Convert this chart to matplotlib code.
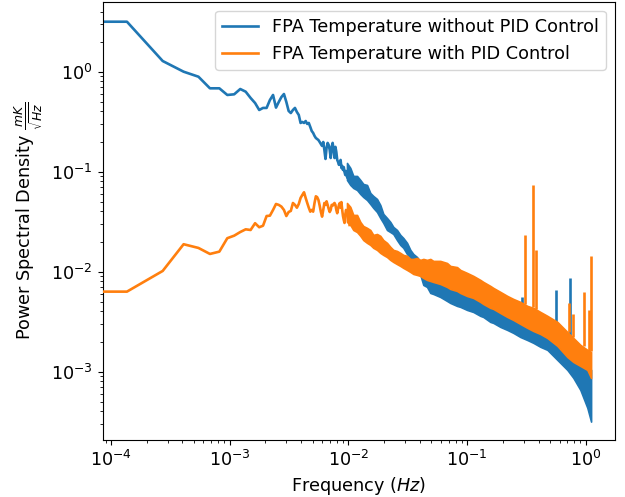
import numpy as np
import matplotlib
matplotlib.use("Agg")
import matplotlib.pyplot as plt

# ---------------- data ----------------
DF = 1.364e-4  # frequency bin width (Hz)

# low-frequency bins k = 0..75 (f = k*DF)
blue_low = [3.162, 3.162, 1.279, 1.000, 0.891, 0.682, 0.682, 0.585, 0.594, 0.671,
            0.631, 0.546, 0.486, 0.414, 0.434, 0.434, 0.521, 0.585, 0.437, 0.498,
            0.558, 0.598, 0.498, 0.405, 0.386, 0.414, 0.434, 0.395, 0.369, 0.307,
            0.314, 0.307, 0.321, 0.300, 0.307, 0.280, 0.255, 0.244, 0.228, 0.217,
            0.212, 0.207, 0.198, 0.189, 0.181, 0.198, 0.165, 0.134, 0.173, 0.194,
            0.185, 0.165, 0.137, 0.177, 0.194, 0.165, 0.137, 0.177, 0.157, 0.131,
            0.125, 0.117, 0.122, 0.131, 0.109, 0.114, 0.104, 0.111, 0.0993, 0.0927,
            0.1016, 0.0906, 0.0865, 0.0948, 0.0826, 0.0885]

orange_low = [0.00631, 0.00631, 0.01016, 0.0188, 0.01726, 0.01503, 0.01585, 0.0216, 0.0229, 0.0249,
              0.0265, 0.0261, 0.0305, 0.0278, 0.0288, 0.0360, 0.0363, 0.0414, 0.0475, 0.0465,
              0.0447, 0.0414, 0.0360, 0.0395, 0.0405, 0.0486, 0.0465, 0.0436, 0.0475, 0.0546,
              0.0585, 0.0622, 0.0546, 0.0486, 0.0436, 0.0398, 0.0414, 0.0398, 0.0486, 0.0567,
              0.0556, 0.0521, 0.0457, 0.0395, 0.0355, 0.0414, 0.0486, 0.0465, 0.0505, 0.0465,
              0.0425, 0.0395, 0.0414, 0.0465, 0.0457, 0.0475, 0.0486, 0.0465, 0.0414, 0.0384,
              0.0425, 0.0465, 0.0486, 0.0436, 0.0496, 0.0414, 0.0360, 0.0329, 0.0307, 0.0372,
              0.0414, 0.0395, 0.0398, 0.0316, 0.0381, 0.0293]

# dense high-frequency region: envelope of the noisy spectrum
band_f = [0.00973, 0.01038, 0.01100, 0.01182, 0.01260, 0.01335, 0.01435, 0.01529, 0.01621, 0.01741,
          0.01856, 0.01968, 0.02114, 0.02254, 0.02389, 0.02566, 0.02736, 0.02901, 0.03116, 0.03322,
          0.03522, 0.03783, 0.04033, 0.04276, 0.04593, 0.04898, 0.05191, 0.05943, 0.06772, 0.07219,
          0.08223, 0.08766, 0.09982, 0.1128, 0.1292, 0.1369, 0.1569, 0.1663, 0.1904, 0.2182,
          0.2450, 0.2806, 0.3215, 0.3612, 0.4138, 0.4739, 0.5753, 0.6984, 0.7847, 0.8989,
          1.0294, 1.1061]

blue_top = [0.1222, 0.1089, 0.0906, 0.0906, 0.0826, 0.0753, 0.0736, 0.0612, 0.0571, 0.0533,
            0.0464, 0.0378, 0.0344, 0.0314, 0.0280, 0.0261, 0.0233, 0.0217, 0.0194, 0.0165,
            0.0150, 0.0140, 0.0125, 0.0114, 0.0109, 0.00993, 0.00927, 0.00865, 0.00789, 0.00753,
            0.00703, 0.00656, 0.00612, 0.00558, 0.00509, 0.00486, 0.00444, 0.00424, 0.00395, 0.00361,
            0.00329, 0.00307, 0.00280, 0.00261, 0.00244, 0.00222, 0.00194, 0.00165, 0.00147, 0.00125,
            0.00109, 0.00104]
blue_bot = [0.0826, 0.0736, 0.0687, 0.0656, 0.0598, 0.0558, 0.0521, 0.0475, 0.0434, 0.0395,
            0.0344, 0.0307, 0.0261, 0.0249, 0.0238, 0.0207, 0.0185, 0.0173, 0.0150, 0.0137,
            0.0125, 0.0114, 0.00927, 0.00736, 0.00703, 0.00612, 0.00598, 0.00558, 0.00509, 0.00486,
            0.00454, 0.00444, 0.00414, 0.00395, 0.00361, 0.00352, 0.00314, 0.00307, 0.00280, 0.00261,
            0.00244, 0.00222, 0.00207, 0.00194, 0.00177, 0.00165, 0.00131, 0.00104, 0.000865, 0.000656,
            0.000434, 0.000316]

orange_top = [0.0486, 0.0444, 0.0369, 0.0369, 0.0314, 0.0286, 0.0274, 0.0261, 0.0233, 0.0238,
              0.0228, 0.0207, 0.0194, 0.0177, 0.0165, 0.0161, 0.0154, 0.0147, 0.0144, 0.0134,
              0.0134, 0.0137, 0.0131, 0.0134, 0.0131, 0.0134, 0.0128, 0.0128, 0.0122, 0.0114,
              0.0111, 0.0104, 0.00971, 0.00906, 0.00826, 0.00789, 0.00719, 0.00687, 0.00627, 0.00571,
              0.00533, 0.00498, 0.00454, 0.00434, 0.00395, 0.00361, 0.00314, 0.00249, 0.00217, 0.00185,
              0.00165, 0.00157]
orange_bot = [0.0314, 0.0293, 0.0261, 0.0249, 0.0228, 0.0207, 0.0194, 0.0185, 0.0173, 0.0165,
              0.0154, 0.0147, 0.0140, 0.0131, 0.0125, 0.0119, 0.0114, 0.0109, 0.0104, 0.00993,
              0.00948, 0.00927, 0.00906, 0.00865, 0.00826, 0.00807, 0.00789, 0.00753, 0.00703, 0.00671,
              0.00641, 0.00612, 0.00571, 0.00546, 0.00498, 0.00475, 0.00434, 0.00424, 0.00386, 0.00352,
              0.00329, 0.00300, 0.00274, 0.00255, 0.00238, 0.00217, 0.00181, 0.00140, 0.00125, 0.00114,
              0.00104, 0.000865]

# narrow spectral lines (frequency, band level, peak level)
blue_spike_f = [0.290, 0.561, 0.731]
blue_spike_base = [0.0031, 0.0019, 0.0016]
blue_spike_peak = [0.00558, 0.00656, 0.0086]

orange_spike_f = [0.309, 0.361, 0.378, 0.716, 0.780, 0.958, 1.056, 1.106]
orange_spike_base = [0.0048, 0.0044, 0.0042, 0.0025, 0.0022, 0.0018, 0.0016, 0.0016]
orange_spike_peak = [0.0233, 0.0736, 0.0165, 0.0049, 0.0038, 0.0063, 0.0041, 0.0144]

labels = ["FPA Temperature without PID Control", "FPA Temperature with PID Control"]
colors = ["#1f77b4", "#ff7f0e"]

# ---------------- plot ----------------
FS = 12.7
LW = 1.9
fig = plt.figure(figsize=(6.25, 4.97), dpi=100)
ax = fig.add_axes([0.164, 0.1147, 0.8192, 0.8813])

f_low_b = np.arange(len(blue_low)) * DF
f_low_o = np.arange(len(orange_low)) * DF

series = [
    (f_low_b, blue_low, blue_top, blue_bot, blue_spike_f, blue_spike_base, blue_spike_peak),
    (f_low_o, orange_low, orange_top, orange_bot, orange_spike_f, orange_spike_base, orange_spike_peak),
]
for i, (fl, vl, top, bot, sf, sb, sp) in enumerate(series):
    c = colors[i]
    z = 2 + i
    ax.plot(fl, vl, color=c, lw=LW, label=labels[i], zorder=z)
    ax.fill_between(band_f, bot, top, color=c, lw=1.2, edgecolor=c, zorder=z)
    ax.vlines(sf, sb, sp, color=c, lw=LW, zorder=z)

ax.set_xscale("log")
ax.set_yscale("log")
ax.set_xlim(8.49e-5, 1.742)
ax.set_ylim(2.07e-4, 4.98)

ax.tick_params(labelsize=FS)
ax.set_xlabel("Frequency ($Hz$)", fontsize=FS)
ax.set_ylabel(r"Power Spectral Density $\frac{mK}{\sqrt{Hz}}$", fontsize=FS)
ax.legend(loc="upper right", fontsize=FS)

fig.savefig("out.png", dpi=100)
